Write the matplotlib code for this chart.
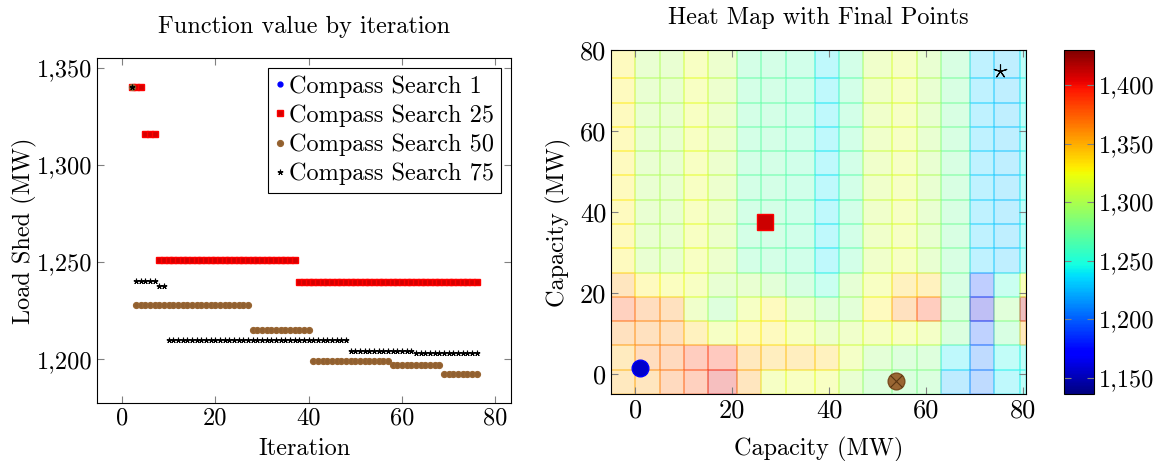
import numpy as np
import matplotlib
matplotlib.use("Agg")
import matplotlib.pyplot as plt
from matplotlib.ticker import FuncFormatter

plt.rcParams["font.family"] = ["cmr10", "DejaVu Serif"]
plt.rcParams["axes.unicode_minus"] = False

# left panel: function value per iteration
cs1_iter = [2]
cs1_val = [1340]

cs25_iter = list(range(2, 77))
cs25_val = [1340] * 3 + [1316] * 3 + [1251] * 30 + [1240] * 39

cs50_iter = list(range(2, 77))
cs50_val = [1340] + [1228] * 25 + [1215] * 13 + [1199] * 17 + [1197] * 11 + [1192.5] * 8

cs75_iter = list(range(2, 77))
cs75_val = [1340] + [1240.5] * 5 + [1237.5] * 2 + [1210] * 39 + [1204] * 14 + [1203.3] * 14

# right panel: heat map cells
x_edges = [-5, 0, 5, 10, 15, 21, 26, 31, 37, 42, 47, 53, 58, 63, 69, 74, 79.4, 80.5]
y_edges = [-5, 1, 7, 13, 19, 25, 31, 37, 43, 49, 55, 61, 67, 73, 80]

row_m5 = [1350, 1355, 1370, 1380, 1405, 1355, 1318, 1320, 1320, 1300, 1283, 1280, 1280, 1225, 1205, 1240, 1245]
row_1 = [1348, 1365, 1370, 1385, 1390, 1350, 1345, 1345, 1340, 1315, 1292, 1283, 1283, 1240, 1205, 1245, 1245]
row_7 = [1360, 1360, 1360, 1340, 1318, 1330, 1330, 1320, 1305, 1310, 1318, 1320, 1315, 1280, 1195, 1275, 1350]
row_13 = [1380, 1365, 1360, 1310, 1283, 1318, 1330, 1305, 1288, 1290, 1330, 1360, 1385, 1280, 1160, 1288, 1415]
row_19 = [1355, 1330, 1325, 1320, 1298, 1300, 1290, 1275, 1255, 1295, 1320, 1340, 1340, 1275, 1190, 1255, 1325]
row_top = [1330, 1300, 1300, 1320, 1305, 1270, 1270, 1265, 1240, 1268, 1310, 1318, 1300, 1275, 1232, 1228, 1245]

final_x = [1.0, 26.8, 53.7, 75.1]
final_y = [1.5, 37.4, -1.7, 74.8]

c_min, c_max = 1136, 1430


def comma(v, pos):
    return f"{v:,.0f}"


def style_ticks(ax, size):
    ax.tick_params(direction="in", top=True, right=True, length=5, width=0.8,
                   color="#808080", labelsize=size)


fig = plt.figure(figsize=(11.66, 4.61), dpi=100)
W, H = 1166, 461

ax1 = fig.add_axes([97 / W, 1 - 403 / H, (511 - 97) / W, (403 - 58) / H])
ax1.plot(cs1_iter, cs1_val, ls="none", marker="o", ms=3.5, color="blue", label="Compass Search 1")
ax1.plot(cs25_iter, cs25_val, ls="none", marker="s", ms=4, color="red", mfc="#d40000",
         label="Compass Search 25")
ax1.plot(cs50_iter, cs50_val, ls="none", marker="o", ms=4.2, color="#996633", mfc="#8f5f30",
         label="Compass Search 50")
ax1.plot(cs75_iter, cs75_val, ls="none", marker=(5, 2, 0), ms=4, mew=0.8, color="black",
         label="Compass Search 75")
ax1.set_xlim(-5.4, 83.4)
ax1.set_ylim(1177.5, 1355)
ax1.set_xticks([0, 20, 40, 60, 80])
ax1.set_yticks([1200, 1250, 1300, 1350])
ax1.yaxis.set_major_formatter(FuncFormatter(comma))
style_ticks(ax1, 17.5)
ax1.set_xlabel("Iteration", fontsize=17.5, labelpad=6)
ax1.set_ylabel("Load Shed (MW)", fontsize=17.5, labelpad=0)
ax1.set_title("Function value by iteration", fontsize=17.5, pad=18)
leg = ax1.legend(loc="upper right", fontsize=17.5, handlelength=0.4, handletextpad=0.15,
                 borderpad=0.3, labelspacing=0.28, fancybox=False, framealpha=1,
                 edgecolor="black", borderaxespad=0.4, markerscale=1.0)
leg.get_frame().set_linewidth(0.8)

ax2 = fig.add_axes([611 / W, 1 - 394 / H, (1025.7 - 611) / W, (394 - 50) / H])
values = np.array([row_m5, row_1, row_7, row_13, row_19] + [row_top] * 9)
mesh = ax2.pcolormesh(x_edges, y_edges, values, cmap="jet", vmin=c_min, vmax=c_max,
                      alpha=0.25, edgecolors="face", linewidth=0.25)
ax2.plot(final_x[0], final_y[0], ls="none", marker="o", ms=12, color="blue", mfc="#0000cc")
ax2.plot(final_x[1], final_y[1], ls="none", marker="s", ms=12, color="red", mfc="#cc0000")
ax2.plot(final_x[2], final_y[2], ls="none", marker="o", ms=12, color="#7a4d20", mfc="#996633")
ax2.plot(final_x[2], final_y[2], ls="none", marker="x", ms=8.5, mew=0.8, color="#5a3512")
ax2.plot(final_x[3], final_y[3], ls="none", marker=(5, 2, 0), ms=10, mew=0.8, color="black")
ax2.set_xlim(-5, 80.5)
ax2.set_ylim(-5, 80)
ax2.set_xticks([0, 20, 40, 60, 80])
ax2.set_yticks([0, 20, 40, 60, 80])
style_ticks(ax2, 19)
ax2.set_xlabel("Capacity (MW)", fontsize=17.5, labelpad=10)
ax2.set_ylabel("Capacity (MW)", fontsize=17.5, labelpad=6)
ax2.set_title("Heat Map with Final Points", fontsize=17.5, pad=19)

cax = fig.add_axes([1064 / W, 1 - 394 / H, 30 / W, (394 - 50) / H])
sm = matplotlib.cm.ScalarMappable(cmap="jet", norm=matplotlib.colors.Normalize(c_min, c_max))
cb = fig.colorbar(sm, cax=cax, ticks=[1150, 1200, 1250, 1300, 1350, 1400])
cb.ax.yaxis.set_major_formatter(FuncFormatter(comma))
cb.ax.tick_params(direction="in", left=True, right=True, length=5, width=0.8,
                  color="#808080", labelsize=17.5)
cb.outline.set_linewidth(0.8)

fig.savefig("out.png", dpi=100)
